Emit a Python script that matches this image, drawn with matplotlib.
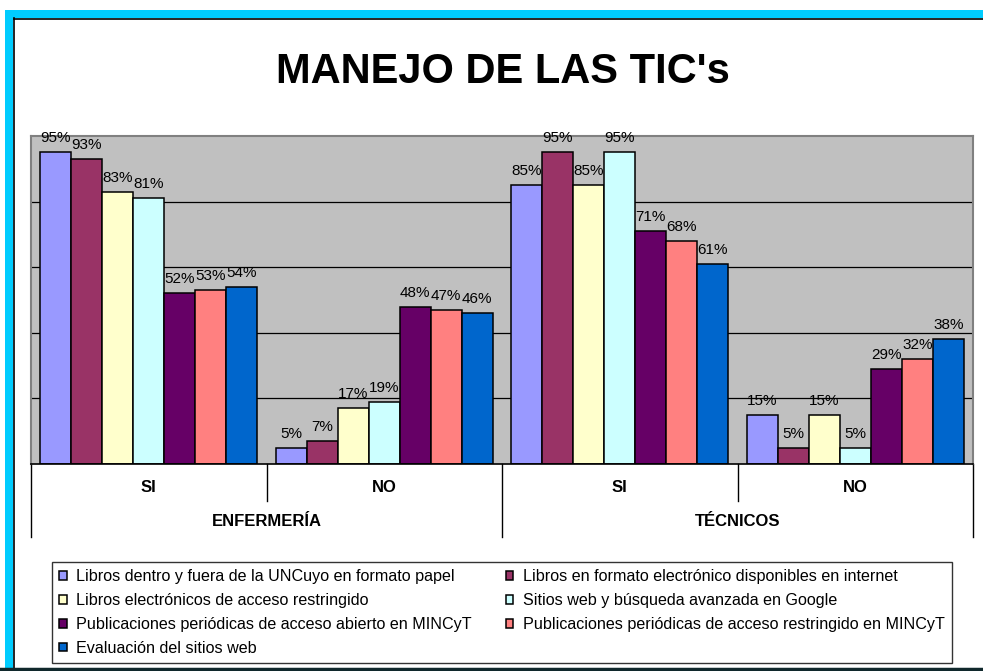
import matplotlib
matplotlib.use('Agg')
import matplotlib.pyplot as plt
from matplotlib.patches import Rectangle, Patch
from matplotlib.lines import Line2D
import numpy as np

plt.rcParams['font.family'] = ['Liberation Sans', 'DejaVu Sans']

# datos
grupos = ['ENFERMERÍA', 'TÉCNICOS']
respuestas = ['SI', 'NO', 'SI', 'NO']
series = [
    'Libros dentro y fuera de la UNCuyo en formato papel',
    'Libros en formato electrónico disponibles en internet',
    'Libros electrónicos de acceso restringido',
    'Sitios web y búsqueda avanzada en Google',
    'Publicaciones periódicas de acceso abierto en MINCyT',
    'Publicaciones periódicas de acceso restringido en MINCyT',
    'Evaluación del sitios web',
]
libros_papel = [95, 5, 85, 15]
libros_electronicos = [93, 7, 95, 5]
libros_restringido = [83, 17, 85, 15]
sitios_google = [81, 19, 95, 5]
pub_abierto = [52, 48, 71, 29]
pub_restringido = [53, 47, 68, 32]
evaluacion_web = [54, 46, 61, 38]
valores = [libros_papel, libros_electronicos, libros_restringido, sitios_google,
           pub_abierto, pub_restringido, evaluacion_web]
colores = ['#9999FF', '#993366', '#FFFFCC', '#CCFFFF', '#660066', '#FF8080', '#0066CC']

W, H = 983, 671
fig = plt.figure(figsize=(W / 100, H / 100), dpi=100)
fig.patch.set_facecolor('white')

# marco cian estilo Excel
fig.add_artist(Rectangle((5 / W, 0), 8 / W, 1 - 10 / H, transform=fig.transFigure,
                         facecolor='#00CCFF', edgecolor='none'))
fig.add_artist(Rectangle((5 / W, 1 - 18 / H), 1, 8 / H, transform=fig.transFigure,
                         facecolor='#00CCFF', edgecolor='none'))
fig.add_artist(Line2D([13.5 / W, 13.5 / W], [0, 1 - 18 / H], transform=fig.transFigure,
                      color='black', lw=1.2))
fig.add_artist(Line2D([13.5 / W, 1], [1 - 18.5 / H, 1 - 18.5 / H], transform=fig.transFigure,
                      color='black', lw=1.2))
fig.add_artist(Line2D([0, 1], [2 / H, 2 / H], transform=fig.transFigure,
                      color='#10282c', lw=2.5))

fig.text(503 / W, 1 - 83 / H, "MANEJO DE LAS TIC's", ha='center', va='baseline',
         fontsize=30, fontweight='bold')

ax = fig.add_axes([31 / W, (H - 464) / H, (973 - 31) / W, (464 - 136) / H])
ax.set_facecolor('#C0C0C0')
ax.set_xlim(-0.5, 3.5)
ax.set_ylim(0, 100)
ax.set_xticks([])
ax.set_yticks([])
for y in [20, 40, 60, 80]:
    ax.axhline(y, color='black', lw=0.9, zorder=1)
for s in ['top', 'left', 'right']:
    ax.spines[s].set_color('#808080')
    ax.spines[s].set_linewidth(1.5)
ax.spines['bottom'].set_color('black')
ax.spines['bottom'].set_linewidth(1.2)

x = np.arange(len(respuestas))
ancho = 31 / 235.5
n = len(series)
for i in range(n):
    b = ax.bar(x + (i - (n - 1) / 2) * ancho, valores[i], ancho, color=colores[i],
               edgecolor='black', linewidth=1.1, zorder=2, label=series[i])
    ax.bar_label(b, labels=[f'{v}%' for v in valores[i]], padding=5, fontsize=11)

# etiquetas de categorias en dos niveles
tr = ax.get_xaxis_transform()
for xi, r in zip(x, respuestas):
    ax.text(xi, -23 / 328, r, transform=tr, ha='center', va='center',
            fontsize=12, fontweight='bold')
for gi, g in enumerate(grupos):
    ax.text(2 * gi + 0.5, -57 / 328, g, transform=tr, ha='center', va='center',
            fontsize=12, fontweight='bold')
for xs in [-0.5, 1.5, 3.5]:
    ax.plot([xs, xs], [0, -73 / 328], transform=tr, color='black', lw=1, clip_on=False)
for xs in [0.5, 2.5]:
    ax.plot([xs, xs], [0, -37 / 328], transform=tr, color='black', lw=1, clip_on=False)

orden = [0, 2, 4, 6, 1, 3, 5]
handles = [Patch(facecolor=colores[i], edgecolor='black', linewidth=1.1) for i in orden]
leg = fig.legend(handles, [series[i] for i in orden], ncol=2,
                 loc='upper left', bbox_to_anchor=(52 / W, 1 - 562 / H),
                 fontsize=11.6, frameon=True, fancybox=False, edgecolor='black',
                 handlelength=0.45, handleheight=0.45, handletextpad=0.6,
                 labelspacing=0.55, columnspacing=2.1, borderaxespad=0, borderpad=0.45)
leg.get_frame().set_linewidth(1)

fig.savefig('out.png', dpi=100)
